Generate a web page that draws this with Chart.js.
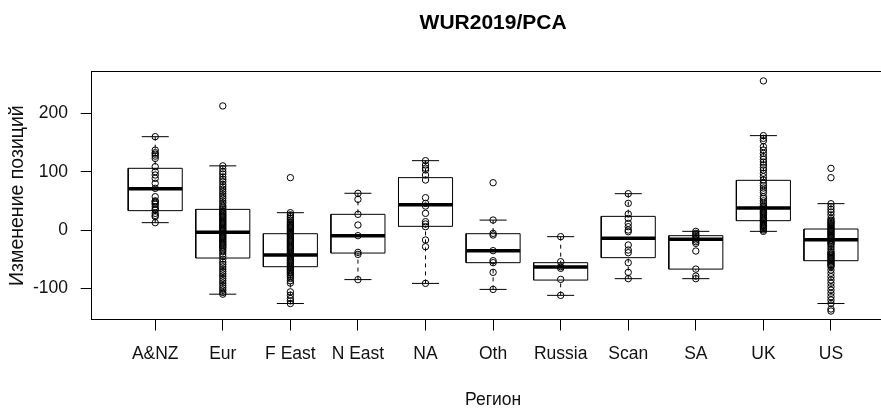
<!DOCTYPE html>
<html>
<head>
<meta charset="utf-8">
<script src="https://cdn.jsdelivr.net/npm/chart.js@4"></script>
<style>
html,body{margin:0;padding:0;overflow:hidden;background:#fff;width:881px;height:409px;}
#wrap{width:900px;height:409px;}
canvas{display:block;}
</style>
</head>
<body>
<div id="wrap"><canvas id="c" width="900" height="409"></canvas></div>
<script>
const categories = ['A&NZ','Eur','F East','N East','NA','Oth','Russia','Scan','SA','UK','US'];
const whiskerLow  = [12.6, -110, -126, -85, -91.5, -101.8, -112, -83.4, -83.4, -2.3, -126];
const q1          = [33.2, -48, -62.9, -39.5, 6.3, -56, -85.8, -47.4, -67, 16, -52.6];
const median      = [70.9, -4, -42.9, -9.7, 43.4, -35.4, -63.5, -14.3, -16, 37.7, -16.6];
const q3          = [105.8, 35.4, -6.3, 26.9, 89.8, -6.3, -56, 23.4, -9.7, 85.2, 1.7];
const whiskerHigh = [160, 110, 29.7, 63, 118.9, 17, -11.4, 62.3, -2.3, 161.8, 45.2];
const yTicks = [-100, 0, 100, 200];

const ptsANZ = [160, 137, 132.5, 130, 126.7, 122.8, 108.6, 100, 94.3, 88.6, 80, 71.4, 57.1, 50, 48.6, 46, 44, 40, 36, 34.3, 28.6, 25, 22.9, 12.6];
const ptsEur = [212.7, 110, 105, 100, 96, 91, 87, 83, 78, 74, 70, 66, 62, 58, 54, 50, 46, 42, 39, 36, 33, 31, 29, 27, 25, 23, 21, 19, 17, 15, 13, 11, 9, 7, 5, 3, 1, -1, -3, -5, -7, -9, -11, -13, -15, -17, -19, -21, -23, -25, -27, -29, -31, -34, -37, -41, -45, -50, -55, -59, -63, -67, -71, -75, -79, -83, -87, -91, -95, -99, -103, -107, -110];
const ptsFEast = [89.8, 29.7, 26, 23, 20, 17, 14, 12, 10, 8, 6, 4, 2, 0, -2, -4, -6, -8, -10, -12, -14, -16, -18, -20, -22, -24, -26, -28, -30, -32, -34, -36, -38, -40, -42, -44, -46, -48, -50, -52, -54, -56, -58, -60, -62, -64, -66, -68, -70, -72, -74, -77, -80, -83, -87, -91, -106, -111.7, -117.4, -121.4, -126];
const ptsNEast = [62.9, 52.6, 26.9, 8.6, -9.7, -38.3, -41.7, -85.1];
const ptsNA = [118.9, 111.4, 106, 102.9, 94.3, 85.7, 55.4, 45.7, 41.1, 28.6, 14.3, 10.3, 5.7, -17.1, -28.6, -91.4];
const ptsOth = [81.1, 17.1, -5.7, -8.6, -35.4, -52.6, -56, -72.6, -101.8];
const ptsRussia = [-11.4, -54.3, -62.9, -65.7, -84.6, -112];
const ptsScan = [62.3, 45.7, 27.4, 20, 11.4, 5.7, 0, -2.9, -25.7, -34.3, -38.9, -56, -72.6, -83.4];
const ptsSA = [-2.3, -5.7, -8.6, -11.4, -14.3, -17.1, -20, -22.9, -36, -67, -79, -83.4];
const ptsUK = [255.6, 161.8, 157.1, 153.1, 142.9, 137.1, 131.4, 125.7, 121.1, 116.6, 111.4, 106.8, 102.9, 97.1, 91.4, 85.7, 80, 76, 72, 68, 64, 57, 54, 50, 46, 42, 40, 38, 36, 34, 32, 30, 28, 26, 24, 22, 20, 18, 16, 14, 12, 10, 8, 6, 4, 2, 0, -2.3];
const ptsUS = [105.7, 89.7, 45.1, 40, 35.4, 30.9, 25.7, 20, 17, 15, 13, 11, 9, 7, 5, 3, 1, -1, -3, -5, -7, -9, -11, -13, -15, -17, -19, -21, -23, -25, -28.6, -32.6, -37, -39, -41, -43, -45, -47, -49, -51, -53, -55, -57, -59, -61, -63, -68.6, -74.3, -80, -85.7, -91.4, -97.1, -102.9, -108.6, -114.3, -120, -125.7, -135.4, -138.9];
const groupPoints = [ptsANZ, ptsEur, ptsFEast, ptsNEast, ptsNA, ptsOth, ptsRussia, ptsScan, ptsSA, ptsUK, ptsUS];

const HALF_BOX = 0.4, HALF_STAPLE = 0.2;
const GAP = {x: null, y: null};
const boxData = [], medData = [], whiskData = [], stapleData = [];
categories.forEach((c, i) => {
  const x = i + 1;
  boxData.push({x: x - HALF_BOX, y: q1[i]}, {x: x + HALF_BOX, y: q1[i]}, {x: x + HALF_BOX, y: q3[i]}, {x: x - HALF_BOX, y: q3[i]}, {x: x - HALF_BOX, y: q1[i]}, GAP);
  medData.push({x: x - HALF_BOX, y: median[i]}, {x: x + HALF_BOX, y: median[i]}, GAP);
  whiskData.push({x: x, y: whiskerHigh[i]}, {x: x, y: q3[i]}, GAP, {x: x, y: whiskerLow[i]}, {x: x, y: q1[i]}, GAP);
  stapleData.push({x: x - HALF_STAPLE, y: whiskerHigh[i]}, {x: x + HALF_STAPLE, y: whiskerHigh[i]}, GAP, {x: x - HALF_STAPLE, y: whiskerLow[i]}, {x: x + HALF_STAPLE, y: whiskerLow[i]}, GAP);
});
const pointData = groupPoints.flatMap((arr, i) => arr.map(v => ({x: i + 1, y: v})));

const lineDs = (data, extra) => Object.assign({
  data, showLine: true, pointRadius: 0, borderColor: '#000', borderWidth: 1,
  fill: false, tension: 0, spanGaps: false
}, extra);

const FONT = "'Liberation Sans', Arial, sans-serif";
new Chart(document.getElementById('c'), {
  type: 'scatter',
  data: {
    datasets: [
      {data: pointData, showLine: false, pointStyle: 'circle', pointRadius: 3.2, pointBorderWidth: 1,
       pointBorderColor: '#000', pointBackgroundColor: 'rgba(0,0,0,0)', order: 0},
      lineDs(medData, {borderWidth: 3.5, borderCapStyle: 'butt', order: 1}),
      lineDs(boxData, {order: 2}),
      lineDs(stapleData, {order: 3}),
      lineDs(whiskData, {borderDash: [4, 4], order: 4})
    ]
  },
  options: {
    responsive: false,
    animation: false,
    devicePixelRatio: 1,
    events: [],
    layout: {padding: {left: 0, right: 5.5, top: 0, bottom: 0}},
    plugins: {
      legend: {display: false},
      tooltip: {enabled: false},
      title: {
        display: true, text: 'WUR2019/PCA', fullSize: false, color: '#000',
        font: {family: FONT, size: 21, weight: 'bold', lineHeight: 1.2},
        padding: {top: 11.1, bottom: 35.4}
      }
    },
    scales: {
      x: {
        type: 'linear', position: 'bottom', min: 0.06, max: 11.94,
        afterBuildTicks: (axis) => { axis.ticks = categories.map((c, i) => ({value: i + 1})); },
        afterFit: (s) => { s.height = 89.5; },
        ticks: {autoSkip: false, maxRotation: 0, padding: 13.5, color: '#111',
                font: {family: FONT, size: 17.5},
                callback: (v) => categories[Math.round(v) - 1]},
        grid: {display: true, drawOnChartArea: false, drawTicks: true, tickLength: 11, color: '#000', lineWidth: 1},
        border: {display: true, color: '#000', width: 1},
        title: {display: true, text: 'Регион', color: '#111',
                font: {family: FONT, size: 17.5, lineHeight: 0.8}, padding: {top: 0, bottom: 1.5}}
      },
      xTop: {
        type: 'linear', position: 'top', min: 0, max: 1,
        afterFit: (s) => { s.height = 0; },
        ticks: {display: false},
        grid: {display: false, drawTicks: false},
        border: {display: true, color: '#000', width: 1}
      },
      y: {
        type: 'linear', position: 'left', min: -153.4, max: 271.4,
        afterBuildTicks: (axis) => { axis.ticks = yTicks.map(v => ({value: v})); },
        afterFit: (s) => { s.width = 91.7; },
        ticks: {padding: 12.7, color: '#111', font: {family: FONT, size: 17.5},
                callback: (v) => String(v)},
        grid: {display: true, drawOnChartArea: false, drawTicks: true, tickLength: 11, color: '#000', lineWidth: 1},
        border: {display: true, color: '#000', width: 1},
        title: {display: true, text: 'Изменение позиций', color: '#111',
                font: {family: FONT, size: 19.5, lineHeight: 1.2}, padding: {top: 5.8, bottom: 0}}
      }
    }
  }
});
</script>
</body>
</html>
